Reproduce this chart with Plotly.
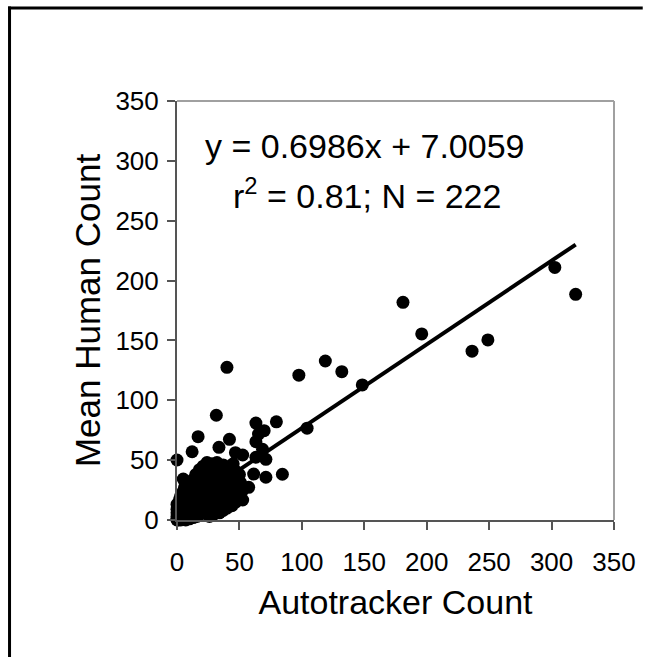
import plotly.graph_objects as go

# Isolated, well-separated observations (autotracker count, mean human count)
outlier_auto = [302.6, 319.3, 181, 196, 236.3, 249, 148.4, 132, 40, 97.6,
                118.8, 31.5, 63.2, 79.6, 104.2, 69.8, 16.9, 42, 12.1, 33.6,
                63.2, 65.3, 46.8, 52.6, 68.5, 71.2, 63.2, 0, 84.4, 71.2,
                61.4, 57.4, 52.6, 5]
outlier_human = [211, 188.5, 181.8, 155.4, 141, 150.4, 112.8, 123.9, 127.5, 121,
                 132.8, 87.5, 81, 82, 76.7, 74.6, 69.6, 67.4, 57, 60.7,
                 65.4, 71.8, 56.2, 54.3, 59, 50.7, 52.4, 50.1, 38.2, 35.7,
                 38.4, 27.3, 16.7, 34.2]

# Dense group of low counts near the origin
cluster_auto = [
    0, 0, 0, 0, 0, 0, 1, 1, 1, 1,
    1, 2, 2, 2, 2, 2, 3, 3, 3, 3,
    3, 4, 4, 4, 4, 5, 5, 5, 5, 5,
    6, 6, 6, 6, 7, 7, 7, 7, 8, 8,
    8, 8, 9, 9, 9, 9, 10, 10, 10, 10,
    11, 11, 11, 11, 12, 12, 12, 12, 13, 13,
    13, 13, 14, 14, 14, 14, 15, 15, 15, 15,
    16, 16, 16, 16, 17, 17, 17, 17, 18, 18,
    18, 18, 19, 19, 19, 19, 20, 20, 20, 20,
    21, 21, 21, 21, 22, 22, 22, 22, 23, 23,
    23, 23, 24, 24, 24, 24, 25, 25, 25, 25,
    26, 26, 26, 26, 27, 27, 27, 26, 28, 28,
    28, 28, 29, 29, 29, 30, 30, 30, 30, 30,
    31, 31, 31, 32, 32, 32, 32, 33, 33, 33,
    34, 34, 34, 34, 35, 35, 35, 36, 36, 36,
    37, 37, 37, 37, 38, 38, 38, 39, 39, 39,
    40, 40, 40, 41, 41, 41, 42, 42, 44, 43,
    43, 44, 44, 45, 45, 45, 47, 46, 47, 47,
    48, 48, 50, 49, 50, 50, 51, 52]
cluster_human = [
    0, 1, 3, 6, 9, 13, 0, 2, 5, 8,
    12, 1, 4, 7, 10, 17, 0, 3, 6, 11,
    20, 2, 5, 9, 14, 1, 4, 7, 12, 24,
    3, 8, 16, 27, 0, 5, 10, 19, 2, 7,
    13, 22, 4, 9, 16, 30, 1, 6, 12, 20,
    3, 9, 15, 25, 6, 11, 18, 33, 2, 8,
    14, 22, 5, 11, 17, 28, 8, 13, 20, 38,
    3, 10, 16, 24, 7, 13, 19, 31, 11, 17,
    23, 42, 5, 14, 21, 27, 9, 16, 25, 35,
    12, 19, 28, 45, 7, 15, 22, 32, 11, 18,
    26, 39, 14, 21, 30, 48, 9, 17, 24, 34,
    13, 20, 28, 42, 16, 23, 31, 3, 19, 26,
    36, 47, 14, 22, 30, 17, 25, 33, 44, 5,
    20, 28, 38, 15, 23, 32, 48, 19, 27, 36,
    6, 22, 30, 42, 17, 26, 34, 20, 29, 39,
    8, 24, 33, 46, 19, 28, 37, 22, 31, 41,
    10, 26, 35, 21, 30, 44, 24, 33, 12, 28,
    39, 23, 32, 27, 36, 47, 15, 30, 25, 34,
    29, 40, 20, 33, 27, 38, 31, 24]

auto_counts = outlier_auto + cluster_auto
human_counts = outlier_human + cluster_human

# Least-squares fit as reported on the chart
slope = 0.6986
intercept = 7.0059
r_squared = 0.81
n_obs = 222
fit_x = [0, max(auto_counts)]
fit_y = [slope * v + intercept for v in fit_x]

tick_vals = [0, 50, 100, 150, 200, 250, 300, 350]

FONT = "Arial, Liberation Sans, sans-serif"

fig = go.Figure()
fig.add_trace(go.Scatter(
    x=auto_counts, y=human_counts, mode="markers",
    marker=dict(size=13, color="black", line=dict(width=0)),
    cliponaxis=False, showlegend=False))
fig.add_trace(go.Scatter(
    x=fit_x, y=fit_y, mode="lines",
    line=dict(color="black", width=4),
    cliponaxis=False, showlegend=False))

axis_common = dict(
    range=[0, 350], tickvals=tick_vals, showgrid=False, zeroline=False,
    showline=True, linecolor="#555555", linewidth=2,
    ticks="outside", ticklen=8, tickwidth=2, tickcolor="#555555",
    tickfont=dict(family=FONT, size=26, color="black"),
)
fig.update_xaxes(**axis_common, ticklabelstandoff=10,
                 title=dict(text="Autotracker Count", standoff=14,
                            font=dict(family=FONT, size=34, color="black")))
fig.update_yaxes(**axis_common, ticklabelstandoff=3,
                 title=dict(text="Mean Human Count", standoff=4,
                            font=dict(family=FONT, size=35, color="black")))

L, R, T, B = 177, 30, 101, 138
W, H = 648, 658
pw, ph = W - L - R, H - T - B

def px_x(p):
    return (p - L) / pw

def px_y(p):
    return (H - B - p) / ph

shapes = [
    # light plot-area border on top and right
    dict(type="line", xref="paper", yref="paper", x0=0, x1=1, y0=1, y1=1,
         line=dict(color="#a0a0a0", width=2)),
    dict(type="line", xref="paper", yref="paper", x0=1, x1=1, y0=0, y1=1,
         line=dict(color="#a0a0a0", width=2)),
    # outer chart frame: left and top edges, kept inside the page
    dict(type="line", xref="paper", yref="paper",
         x0=px_x(8), x1=px_x(8), y0=px_y(H - 1), y1=px_y(6.5),
         line=dict(color="black", width=3)),
    dict(type="line", xref="paper", yref="paper",
         x0=px_x(6.5), x1=px_x(W - 1), y0=px_y(8), y1=px_y(8),
         line=dict(color="black", width=3)),
]

annotations = [
    dict(text=f"y = {slope}x + {intercept}", xref="paper", yref="paper",
         x=px_x(366), y=px_y(146), xanchor="center", yanchor="middle",
         showarrow=False, font=dict(family=FONT, size=34, color="black")),
    dict(text=f"r<sup>2</sup> = {r_squared}; N = {n_obs}", xref="paper", yref="paper",
         x=px_x(369), y=px_y(194), xanchor="center", yanchor="middle",
         showarrow=False, font=dict(family=FONT, size=34, color="black")),
]

fig.update_layout(
    width=W, height=H,
    margin=dict(l=L, r=R, t=T, b=B, pad=0),
    paper_bgcolor="white", plot_bgcolor="white",
    shapes=shapes, annotations=annotations,
)

fig.write_html("out.html")
